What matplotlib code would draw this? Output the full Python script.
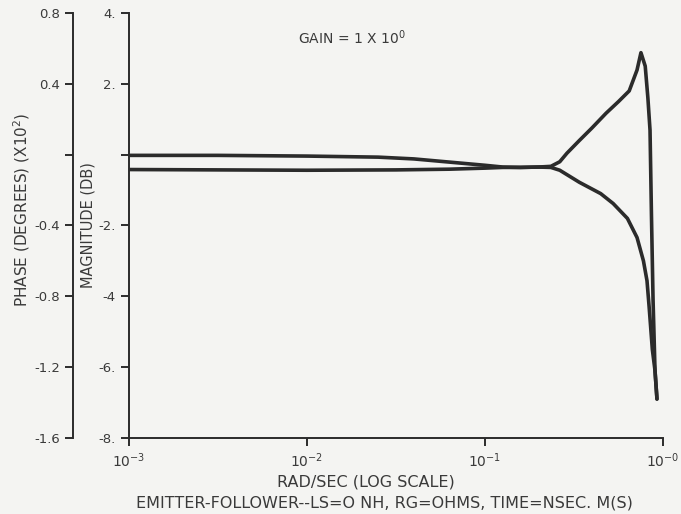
import numpy as np
import matplotlib
matplotlib.use("Agg")
import matplotlib.pyplot as plt

# frequencies are given as log10(rad/sec)
log_w_mag = [-3.0, -2.5, -2.0, -1.6, -1.4, -1.2, -1.0, -0.9, -0.8, -0.7, -0.63,
             -0.58, -0.54, -0.47, -0.40, -0.32, -0.25, -0.19, -0.146, -0.124, -0.10,
             -0.085, -0.073, -0.065, -0.056, -0.045, -0.034]
mag_db = [-0.02, -0.02, -0.04, -0.07, -0.12, -0.21, -0.30, -0.35, -0.36, -0.35, -0.33,
          -0.20, 0.04, 0.40, 0.75, 1.17, 1.50, 1.80, 2.39, 2.88, 2.5,
          1.6, 0.69, -1.7, -4.1, -6.1, -6.9]

log_w_phase = [-3.0, -2.5, -2.0, -1.5, -1.2, -1.0, -0.9, -0.8, -0.7, -0.63, -0.58,
               -0.47, -0.35, -0.28, -0.2, -0.146, -0.11, -0.09, -0.078, -0.06,
               -0.045, -0.034]
phase_x100 = [-0.084, -0.086, -0.088, -0.086, -0.082, -0.076, -0.072, -0.072, -0.070,
              -0.072, -0.088, -0.156, -0.22, -0.276, -0.36, -0.468, -0.60, -0.712,
              -0.86, -1.10, -1.22, -1.38]

mag_ticks = [4, 2, 0, -2, -4, -6, -8]
mag_labels = ["4.", "2.", "", "-2.", "-4", "-6.", "-8."]
phase_ticks = [0.8, 0.4, 0.0, -0.4, -0.8, -1.2, -1.6]
phase_labels = ["0.8", "0.4", "", "-0.4", "-0.8", "-1.2", "-1.6"]
x_ticks = [1e-3, 1e-2, 1e-1, 1e0]
x_labels = ["10$^{-3}$", "10$^{-2}$", "10$^{-1}$", "10$^{-0}$"]

ink = "#2b2b2b"
txt = "#3a3a3a"
plt.rcParams["font.family"] = ["DejaVu Sans"]

fig = plt.figure(figsize=(6.81, 5.14), dpi=100, facecolor="#f4f4f2")
ax = fig.add_axes([0.1894, 0.1479, 0.7842, 0.8268])
ax.set_facecolor("none")

ax.plot(10 ** np.array(log_w_mag), mag_db, color=ink, lw=2.6,
        solid_joinstyle="round", solid_capstyle="round")
ax.set_xscale("log")
ax.set_xlim(1e-3, 1e0)
ax.set_ylim(-8, 4)
ax.set_xticks(x_ticks)
ax.set_xticklabels(x_labels)
ax.minorticks_off()
ax.set_yticks(mag_ticks)
ax.set_yticklabels(mag_labels)
for s in ["top", "right"]:
    ax.spines[s].set_visible(False)
for s in ["left", "bottom"]:
    ax.spines[s].set_color(ink)
    ax.spines[s].set_linewidth(1.4)
ax.tick_params(axis="both", colors=ink, labelcolor=txt, labelsize=9.5,
               width=1.4, length=6, direction="out")
ax.tick_params(axis="x", labelsize=10, pad=4)

# phase axis, offset to the left
ax2 = ax.twinx()
ax2.plot(10 ** np.array(log_w_phase), phase_x100, color=ink, lw=2.6,
         solid_joinstyle="round", solid_capstyle="round")
ax2.set_ylim(-1.6, 0.8)
ax2.set_yticks(phase_ticks)
ax2.set_yticklabels(phase_labels)
ax2.yaxis.set_ticks_position("left")
ax2.spines["left"].set_position(("outward", 56 * 0.72))
ax2.spines["left"].set_visible(True)
ax2.spines["left"].set_color(ink)
ax2.spines["left"].set_linewidth(1.4)
for s in ["top", "right", "bottom"]:
    ax2.spines[s].set_visible(False)
ax2.tick_params(axis="y", colors=ink, labelcolor=txt, labelsize=9.5,
                width=1.4, length=6, direction="out")

fig.text(22 / 681, 1 - 210 / 514, "PHASE (DEGREES) (X10$^2$)", rotation=90,
         ha="center", va="center", fontsize=11, color=txt)
fig.text(88 / 681, 1 - 225 / 514, "MAGNITUDE (DB)", rotation=90,
         ha="center", va="center", fontsize=10.5, color=txt)
fig.text(352 / 681, 1 - 38 / 514, "GAIN = 1 X 10$^{0}$",
         ha="center", va="center", fontsize=10, color=txt)
fig.text(366 / 681, 1 - 482 / 514, "RAD/SEC (LOG SCALE)",
         ha="center", va="center", fontsize=11.5, color=txt)
fig.text(384 / 681, 1 - 503 / 514,
         "EMITTER-FOLLOWER--LS=O NH, RG=OHMS, TIME=NSEC. M(S)",
         ha="center", va="center", fontsize=11.5, color=txt)

fig.savefig("out.png", dpi=100, facecolor=fig.get_facecolor())
